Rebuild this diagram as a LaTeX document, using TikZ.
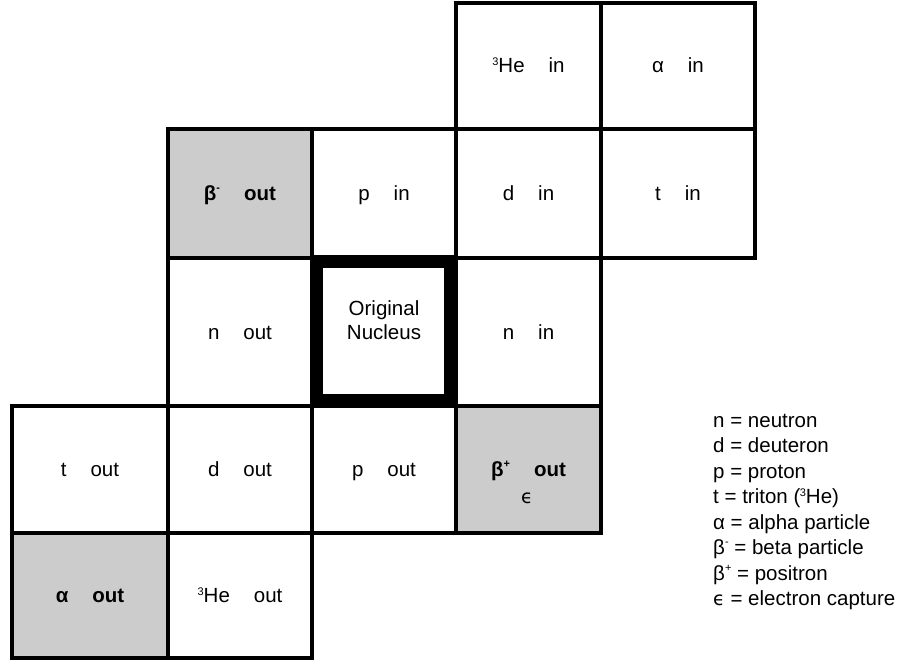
\documentclass[tikz,border=0pt]{standalone}
\usepackage{fontspec}
\setmainfont{Liberation Sans}
\newfontfamily\dejavu{DejaVu Sans}
\newcommand\supnum[1]{\raisebox{7pt}{\fontsize{11}{11}\selectfont #1}}
\newcommand\supsign[1]{\raisebox{9pt}{\fontsize{11}{11}\selectfont #1}}
\newcommand\epsl{{\dejavu\fontsize{19}{20}\selectfont\symbol{"03F5}}}
\newcommand\gap{\hspace{24pt}}
\definecolor{shade}{HTML}{CCCCCC}
\tikzset{
  cell/.style={draw=black, line width=4pt, inner sep=0pt, fill=white,
    font=\fontsize{20.5}{25.5}\selectfont, text height=16pt, text depth=2pt},
  graycell/.style={cell, fill=shade, font=\fontsize{20.5}{25.5}\selectfont\bfseries},
  txt/.style={inner sep=0pt, font=\fontsize{20.5}{24.5}\selectfont, align=center},
  lbl/.style={anchor=base west, inner sep=0pt, font=\fontsize{20.5}{25.5}\selectfont},
  nucframe/.style={draw=black, line width=13pt, inner sep=0pt, fill=none},
}
\begin{document}
\begin{tikzpicture}[x=1pt,y=-1pt]
\useasboundingbox (0,0) rectangle (902,660);
% row 0
\node[cell, minimum width=145, minimum height=126] (hein) at (528.5,66) {\supnum{3}He\gap in};
\node[cell, minimum width=154, minimum height=126] (ain) at (678,66) {α\gap in};
% row 1
\node[graycell, minimum width=144, minimum height=129] (bmout) at (240,193.5) {β\supsign{-}\gap out};
\node[cell, minimum width=144, minimum height=129] (pin) at (384,193.5) {p\gap in};
\node[cell, minimum width=145, minimum height=129] (din) at (528.5,193.5) {d\gap in};
\node[cell, minimum width=154, minimum height=129] (tin) at (678,193.5) {t\gap in};
% row 2
\node[cell, minimum width=144, minimum height=148] (nout) at (240,332) {n\gap out};
\node[cell, minimum width=144, minimum height=148] (orig) at (384,332) {};
\node[cell, minimum width=145, minimum height=148] (nin) at (528.5,332) {n\gap in};
% row 3
\node[cell, minimum width=156, minimum height=127] (tout) at (90,469.5) {t\gap out};
\node[cell, minimum width=144, minimum height=127] (dout) at (240,469.5) {d\gap out};
\node[cell, minimum width=144, minimum height=127] (pout) at (384,469.5) {p\gap out};
\node[graycell, minimum width=145, minimum height=127] (bpout) at (528.5,469.5) {β\supsign{+}\gap out};
\node[txt] (ec) at (527,498) {\epsl};
% row 4
\node[graycell, minimum width=156, minimum height=125] (aout) at (90,595.5) {α\gap out};
\node[cell, minimum width=144, minimum height=125] (heout) at (240,595.5) {\supnum{3}He\gap out};
% original nucleus
\node[nucframe, minimum width=134, minimum height=138] (frame) at (383.5,331) {};
\node[txt] (origtxt) at (384,320) {Original\\Nucleus};
% legend
\node[lbl] (l1) at (713,427) {n = neutron};
\node[lbl] (l2) at (713,452.5) {d = deuteron};
\node[lbl] (l3) at (713,478) {p = proton};
\node[lbl] (l4) at (713,503.5) {t = triton (\kern-0.5pt\supnum{3}He)};
\node[lbl] (l5) at (713,529) {α = alpha particle};
\node[lbl] (l6) at (713,554.5) {β\supsign{-} = beta particle};
\node[lbl] (l7) at (713,580) {β\supsign{+} = positron};
\node[lbl] (l8) at (713,605.5) {\epsl{} = electron capture};
\end{tikzpicture}
\end{document}
